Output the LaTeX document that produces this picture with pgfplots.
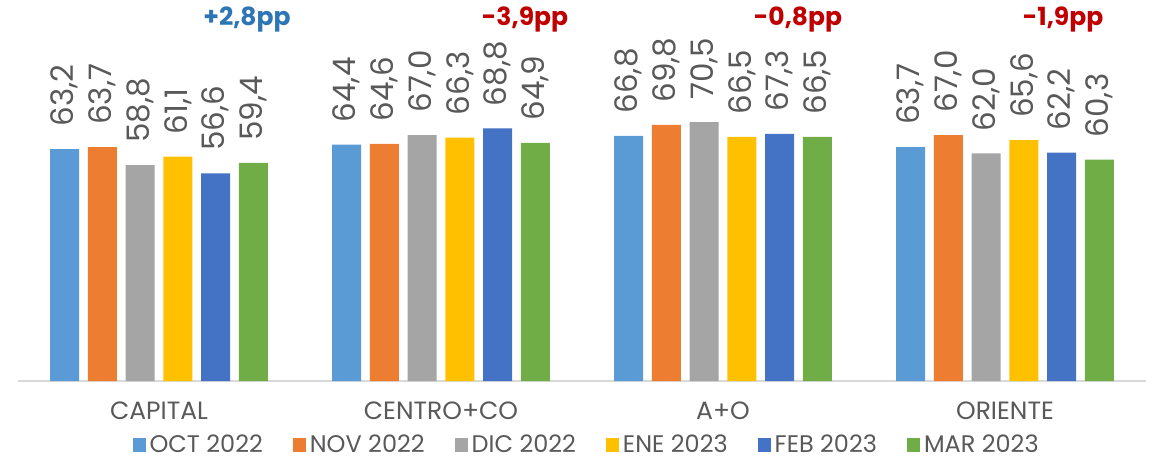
\documentclass[border=0pt]{standalone}
\usepackage{pgfplots}
\pgfplotsset{compat=1.18}
\usepackage{fontspec}
\setmainfont{Poppins}
\definecolor{cOct}{HTML}{5B9BD5}
\definecolor{cNov}{HTML}{ED7D31}
\definecolor{cDic}{HTML}{A5A5A5}
\definecolor{cEne}{HTML}{FFC000}
\definecolor{cFeb}{HTML}{4472C4}
\definecolor{cMar}{HTML}{70AD47}
\definecolor{txt}{HTML}{595959}
\definecolor{ppblue}{HTML}{2E75B6}
\definecolor{ppred}{HTML}{C00000}
\begin{document}
\begin{tikzpicture}
\useasboundingbox (-9pt,-41pt) rectangle (567pt,190.5pt);
\begin{axis}[
  scale only axis,
  width=564pt, height=190.5pt,
  ybar=4.35pt, bar width=14.5pt,
  ymin=0, ymax=103.8,
  xmin=-0.5, xmax=3.5,
  axis x line*=bottom, axis y line=none,
  x axis line style={draw=black!15, line width=0.8pt},
  xtick={0,1,2,3}, xticklabels={CAPITAL,CENTRO+CO,A+O,ORIENTE},
  major tick length=0pt,
  xticklabel style={font=\fontsize{12.5}{14}\selectfont, text=txt, yshift=-7pt},
  nodes near coords,
  every node near coord/.append style={rotate=90, anchor=west, font=\fontsize{15.5}{17}\selectfont, text=txt, inner xsep=11pt},
  nodes near coords style={/pgf/number format/.cd, fixed, fixed zerofill, precision=1, use comma, assume math mode=true},
  legend columns=6,
  legend style={draw=none, at={(0.505,-0.168)}, anchor=center, font=\fontsize{12}{14}\selectfont, text=txt, /tikz/every even column/.append style={column sep=13pt}},
  legend image code/.code={\fill[#1] (0pt,-3.5pt) rectangle (6.5pt,3.5pt);},
]
\addplot[fill=cOct, draw=none] coordinates {(0,63.2) (1,64.4) (2,66.8) (3,63.7)};
\addplot[fill=cNov, draw=none] coordinates {(0,63.7) (1,64.6) (2,69.8) (3,67.0)};
\addplot[fill=cDic, draw=none] coordinates {(0,58.8) (1,67.0) (2,70.5) (3,62.0)};
\addplot[fill=cEne, draw=none] coordinates {(0,61.1) (1,66.3) (2,66.5) (3,65.6)};
\addplot[fill=cFeb, draw=none] coordinates {(0,56.6) (1,68.8) (2,67.3) (3,62.2)};
\addplot[fill=cMar, draw=none] coordinates {(0,59.4) (1,64.9) (2,66.5) (3,60.3)};
\legend{OCT 2022,NOV 2022,DIC 2022,ENE 2023,FEB 2023,MAR 2023}
\node[font=\bfseries\fontsize{12.5}{14}\selectfont, text=ppblue] at (axis cs:0.312,98.4) {+2,8pp};
\node[font=\bfseries\fontsize{12.5}{14}\selectfont, text=ppred] at (axis cs:1.298,98.4) {-3,9pp};
\node[font=\bfseries\fontsize{12.5}{14}\selectfont, text=ppred] at (axis cs:2.266,98.4) {-0,8pp};
\node[font=\bfseries\fontsize{12.5}{14}\selectfont, text=ppred] at (axis cs:3.206,98.4) {-1,9pp};
\end{axis}
\end{tikzpicture}
\end{document}
